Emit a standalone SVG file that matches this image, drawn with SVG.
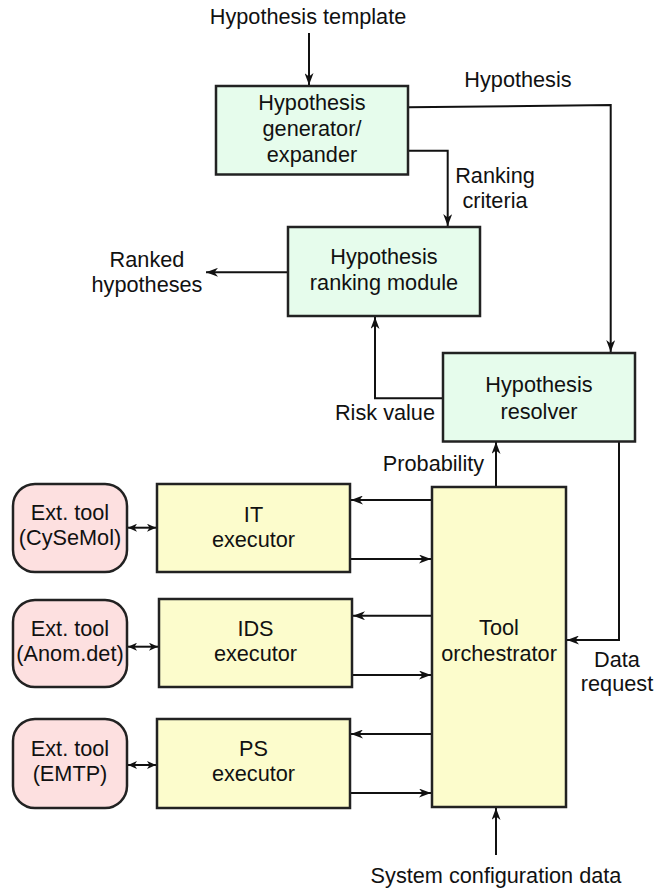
<svg xmlns="http://www.w3.org/2000/svg" width="671" height="891" viewBox="0 0 671 891">
<defs>
<style>
text{font-family:"Liberation Sans",Arial,sans-serif;font-size:21.7px;fill:#111;text-anchor:middle}
.box{stroke:#222;stroke-width:2.5}
.g{fill:#e6fcec}
.y{fill:#fcfccc}
.p{fill:#fde0e0}
.c{fill:none;stroke:#111;stroke-width:2}
.a{marker-end:url(#ah)}
.d{marker-start:url(#sh);marker-end:url(#sh2)}
</style>
<marker id="ah" markerUnits="userSpaceOnUse" markerWidth="13" markerHeight="9" refX="12" refY="4.5" orient="auto"><path d="M0,0 L12,4.5 L0,9 L3.5,4.5 Z" fill="#111"/></marker>
<marker id="sh2" markerUnits="userSpaceOnUse" markerWidth="10" markerHeight="8" refX="9" refY="4" orient="auto"><path d="M0,0 L9,4 L0,8 L2.5,4 Z" fill="#111"/></marker>
<marker id="sh" markerUnits="userSpaceOnUse" markerWidth="10" markerHeight="8" refX="0" refY="4" orient="auto"><path d="M9,0 L0,4 L9,8 L6.5,4 Z" fill="#111"/></marker>
</defs>

<g id="connectors">
<path class="c a" d="M309,33 V85"/>
<path class="c a" d="M408,107.3 L610.7,105 V352"/>
<path class="c a" d="M408,150.7 H447.7 V226"/>
<path class="c a" d="M288,272.3 H206"/>
<path class="c a" d="M443,398.3 H375 V317"/>
<path class="c a" d="M496,487 V442"/>
<path class="c a" d="M619,442 V640 H567"/>
<path class="c a" d="M496,855 V808"/>
<path class="c a" d="M432,500 H351"/>
<path class="c a" d="M350,559 H431"/>
<path class="c a" d="M432,615.7 H353"/>
<path class="c a" d="M352,675 H431"/>
<path class="c a" d="M432,734 H351"/>
<path class="c a" d="M350,793 H431"/>
<path class="c d" d="M128,527.7 H156"/>
<path class="c d" d="M128,646.7 H158"/>
<path class="c d" d="M128,765 H156"/>
</g>

<g id="labels">
<text x="308" y="24">Hypothesis template</text>
<text x="518" y="87">Hypothesis</text>
<text x="495" y="183">Ranking</text>
<text x="495" y="208">criteria</text>
<text x="147" y="266.5">Ranked</text>
<text x="147" y="292">hypotheses</text>
<text x="435" y="420" style="text-anchor:end">Risk value</text>
<text x="433.5" y="471">Probability</text>
<text x="617" y="667">Data</text>
<text x="617" y="691">request</text>
<text x="496" y="883">System configuration data</text>
</g>

<g id="generator">
<rect class="box g" x="216" y="86" width="192" height="88.5"/>
<text x="312" y="109.5">Hypothesis</text>
<text x="312" y="136">generator/</text>
<text x="312" y="162">expander</text>
</g>

<g id="ranking">
<rect class="box g" x="288" y="227" width="192" height="89"/>
<text x="384" y="264">Hypothesis</text>
<text x="384" y="290">ranking module</text>
</g>

<g id="resolver">
<rect class="box g" x="443" y="353" width="192" height="88.5"/>
<text x="539" y="392">Hypothesis</text>
<text x="539" y="418.5">resolver</text>
</g>

<g id="orchestrator">
<rect class="box y" x="432" y="487" width="134" height="320"/>
<text x="499" y="635">Tool</text>
<text x="499" y="661">orchestrator</text>
</g>

<g id="it-executor">
<rect class="box y" x="157" y="484" width="193" height="88"/>
<text x="253.5" y="522">IT</text>
<text x="253.5" y="546.5">executor</text>
</g>

<g id="ids-executor">
<rect class="box y" x="159" y="599" width="193" height="88"/>
<text x="255.5" y="636">IDS</text>
<text x="255.5" y="660.5">executor</text>
</g>

<g id="ps-executor">
<rect class="box y" x="157" y="719" width="193" height="89"/>
<text x="253.5" y="756">PS</text>
<text x="253.5" y="780.5">executor</text>
</g>

<g id="ext-cysemol">
<rect class="box p" x="13" y="484" width="114" height="88" rx="22"/>
<text x="70" y="520">Ext. tool</text>
<text x="70" y="544.5">(CySeMol)</text>
</g>

<g id="ext-anomdet">
<rect class="box p" x="13" y="600" width="114" height="87" rx="22"/>
<text x="70" y="636">Ext. tool</text>
<text x="70" y="660.5">(Anom.det)</text>
</g>

<g id="ext-emtp">
<rect class="box p" x="13" y="719" width="114" height="89" rx="22"/>
<text x="70" y="756">Ext. tool</text>
<text x="70" y="780.5">(EMTP)</text>
</g>
</svg>
